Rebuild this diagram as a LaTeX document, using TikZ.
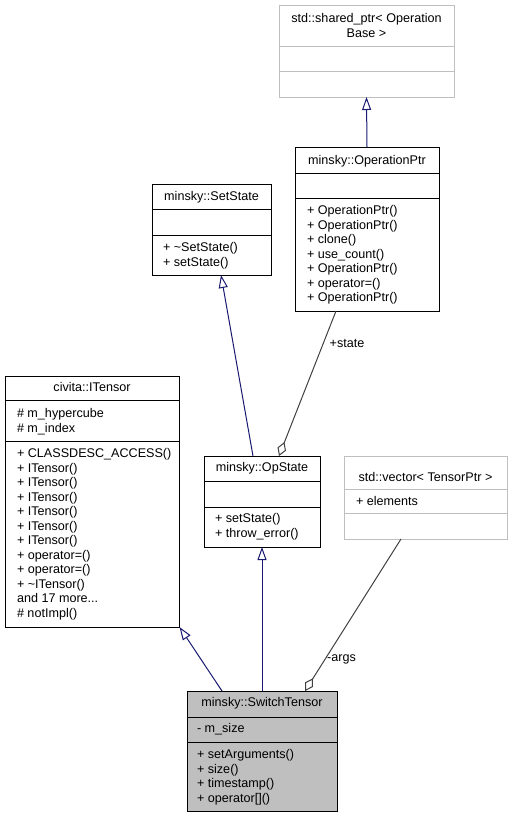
\documentclass[tikz,border=0pt]{standalone}
\usepackage{fontspec}
\setmainfont{Liberation Sans}
\usetikzlibrary{arrows.meta}
\definecolor{edgeblue}{HTML}{191970}
\definecolor{edgegray}{HTML}{404040}
\definecolor{extgray}{HTML}{BFBFBF}
\definecolor{fillgray}{HTML}{BFBFBF}
\newcommand\memberlist[4]{%
  \foreach \t [count=\i] in {#4} {\node[mem] (#1-\i) at (#2, {#3+14.5*(\i-1)}) {\t};}}
\newcommand\threedots{.{}.{}.}
\begin{document}
\begin{tikzpicture}[x=1pt,y=-1pt,
  every node/.style={font=\fontsize{12.6}{14.5}\selectfont, inner sep=0pt, outer sep=0pt},
  cls/.style={draw=black, line width=1pt, rectangle, anchor=north west},
  ext/.style={draw=extgray, line width=1pt, rectangle, anchor=north west},
  divider/.style={draw=black, line width=1pt},
  extdivider/.style={draw=extgray, line width=1pt},
  hdr/.style={anchor=base},
  mem/.style={anchor=base west},
  lbl/.style={anchor=center},
  inh/.style={draw=edgeblue, line width=1pt, -{Triangle[open, length=13pt, width=9pt]}},
  agg/.style={draw=edgegray, line width=1pt, -{Diamond[open, length=15pt, width=9pt]}}]
\useasboundingbox (0,0) rectangle (513,817);

% std::shared_ptr< OperationBase >
\node[ext, minimum width=175pt, minimum height=92pt] (shptr) at (279,5) {};
\draw[extdivider] (shptr.west |- 0,46) -- (shptr.east |- 0,46);
\draw[extdivider] (shptr.west |- 0,71) -- (shptr.east |- 0,71);
\node[hdr] (shptrT1) at (366.5,22.5) {std::shared\_ptr< Operation};
\node[hdr] (shptrT2) at (366.5,37.5) {Base >};

% minsky::OperationPtr
\node[cls, minimum width=144pt, minimum height=164pt] (opptr) at (295,147) {};
\draw[divider] (opptr.west |- 0,173) -- (opptr.east |- 0,173);
\draw[divider] (opptr.west |- 0,198) -- (opptr.east |- 0,198);
\node[hdr] (opptrT) at (367,164.5) {minsky::OperationPtr};
\memberlist{opptrM}{307}{214.5}{+ OperationPtr(),+ OperationPtr(),+ clone(),+ use\_count(),+ OperationPtr(),+ operator=(),+ OperationPtr()}

% minsky::SetState
\node[cls, minimum width=119pt, minimum height=91pt] (setstate) at (152,184) {};
\draw[divider] (setstate.west |- 0,209) -- (setstate.east |- 0,209);
\draw[divider] (setstate.west |- 0,235) -- (setstate.east |- 0,235);
\node[hdr] (setstateT) at (211.5,200.5) {minsky::SetState};
\memberlist{setstateM}{163}{251.5}{+ \textasciitilde SetState(),+ setState()}

% civita::ITensor
\node[cls, minimum width=174.5pt, minimum height=251pt] (itensor) at (5,376) {};
\draw[divider] (itensor.west |- 0,400) -- (itensor.east |- 0,400);
\draw[divider] (itensor.west |- 0,441) -- (itensor.east |- 0,441);
\node[hdr] (itensorT) at (92,391.5) {civita::ITensor};
\memberlist{itensorA}{17}{417.5}{\# m\_hypercube,\# m\_index}
\memberlist{itensorM}{17}{457.5}{+ CLASSDESC\_ACCESS(),+ ITensor(),+ ITensor(),+ ITensor(),+ ITensor(),+ ITensor(),+ ITensor(),+ operator=(),+ operator=(),+ \textasciitilde ITensor(),{and 17 more\threedots},{\# notImpl()}}

% minsky::OpState
\node[cls, minimum width=116pt, minimum height=91pt] (opstate) at (204,456) {};
\draw[divider] (opstate.west |- 0,481) -- (opstate.east |- 0,481);
\draw[divider] (opstate.west |- 0,507) -- (opstate.east |- 0,507);
\node[hdr] (opstateT) at (262,471.5) {minsky::OpState};
\memberlist{opstateM}{215}{522.5}{+ setState(),+ throw\_error()}

% std::vector< TensorPtr >
\node[ext, minimum width=163pt, minimum height=83pt] (vec) at (344,456) {};
\draw[extdivider] (vec.west |- 0,489) -- (vec.east |- 0,489);
\draw[extdivider] (vec.west |- 0,513) -- (vec.east |- 0,513);
\node[hdr] (vecT) at (425.5,481.5) {std::vector< TensorPtr >};
\memberlist{vecA}{356}{505.5}{+ elements}

% minsky::SwitchTensor
\node[cls, fill=fillgray, minimum width=150pt, minimum height=120pt] (switch) at (187,691) {};
\draw[divider] (switch.west |- 0,717) -- (switch.east |- 0,717);
\draw[divider] (switch.west |- 0,742) -- (switch.east |- 0,742);
\node[hdr] (switchT) at (262,706.5) {minsky::SwitchTensor};
\memberlist{switchA}{197}{732.5}{- m\_size}
\memberlist{switchM}{197}{758.5}{+ setArguments(),+ size(),+ timestamp(),+ operator[]()}

% connectors
\draw[inh] (opptr.north) -- (shptr.south);
\draw[inh] ([xshift=-9pt]opstate.north) -- ([xshift=9.5pt]setstate.south);
\draw[inh] (switch.north) -- (opstate.south);
\draw[inh] ([xshift=-40pt]switch.north) -- (itensor.south east);
\draw[agg] ([xshift=-31pt]opptr.south) -- ([xshift=17pt]opstate.north);
\draw[agg] ([xshift=-24.5pt]vec.south) -- ([xshift=43pt]switch.north);
\node[lbl] (stateL) at (347,343) {+state};
\node[lbl] (argsL) at (341.5,659) {-args};
\end{tikzpicture}
\end{document}
